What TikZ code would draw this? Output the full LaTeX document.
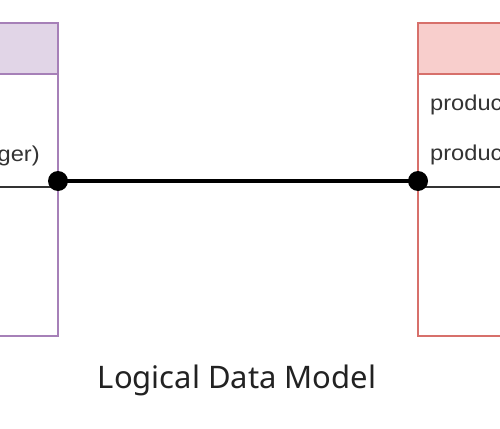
\documentclass[tikz,border=0pt]{standalone}
\usepackage{fontspec}
\setmainfont{Liberation Sans}
\newfontfamily\fieldfont[FakeStretch=1.1]{Liberation Sans}
\newfontfamily\titlefont{Noto Sans}
\definecolor{purpstroke}{HTML}{A680B8}
\definecolor{purpfill}{HTML}{E1D5E7}
\definecolor{redstroke}{HTML}{D7706B}
\definecolor{redfill}{HTML}{F8CECC}
\definecolor{fieldtext}{HTML}{333333}
\definecolor{titletext}{HTML}{222222}
\begin{document}
\begin{tikzpicture}[x=1pt,y=-1pt,
  purpbox/.style={draw=purpstroke, line width=2pt},
  redbox/.style={draw=redstroke, line width=2pt},
  field/.style={font=\fieldfont\fontsize{21.5}{25}\selectfont, text=fieldtext, inner sep=0pt},
  divider/.style={draw=fieldtext, line width=2pt},
  conn/.style={draw=black, line width=3.2pt},
  enddot/.style={fill=black}]
\useasboundingbox (0,0) rectangle (500,428);
\clip (0,0) rectangle (500,428);
\fill[white] (0,0) rectangle (500,428);
% left entity
\draw[purpbox, fill=white] (-200,23) rectangle (58,336);
\draw[purpbox, fill=purpfill] (-200,23) rectangle (58,74);
\node[field, anchor=base east] (lfield) at (40,161) {customer\_id (integer)};
\draw[divider] (-200,187) -- (57,187);
% right entity
\draw[redbox, fill=white] (418,23) rectangle (700,336);
\draw[redbox, fill=redfill] (418,23) rectangle (700,74);
\node[field, anchor=base west] (rfield1) at (430,110) {product\_id};
\node[field, anchor=base west] (rfield2) at (430,160) {product\_name};
\draw[divider] (419,187) -- (700,187);
% connector
\coordinate (lp) at (58,181);
\coordinate (rp) at (418,181);
\draw[conn] (lp) -- (rp);
\fill[enddot] (lp) circle (10);
\fill[enddot] (rp) circle (10);
% title
\node[font=\titlefont\fontsize{31}{37}\selectfont, text=titletext, anchor=base] (title) at (237,388) {Logical Data Model};
\end{tikzpicture}
\end{document}
